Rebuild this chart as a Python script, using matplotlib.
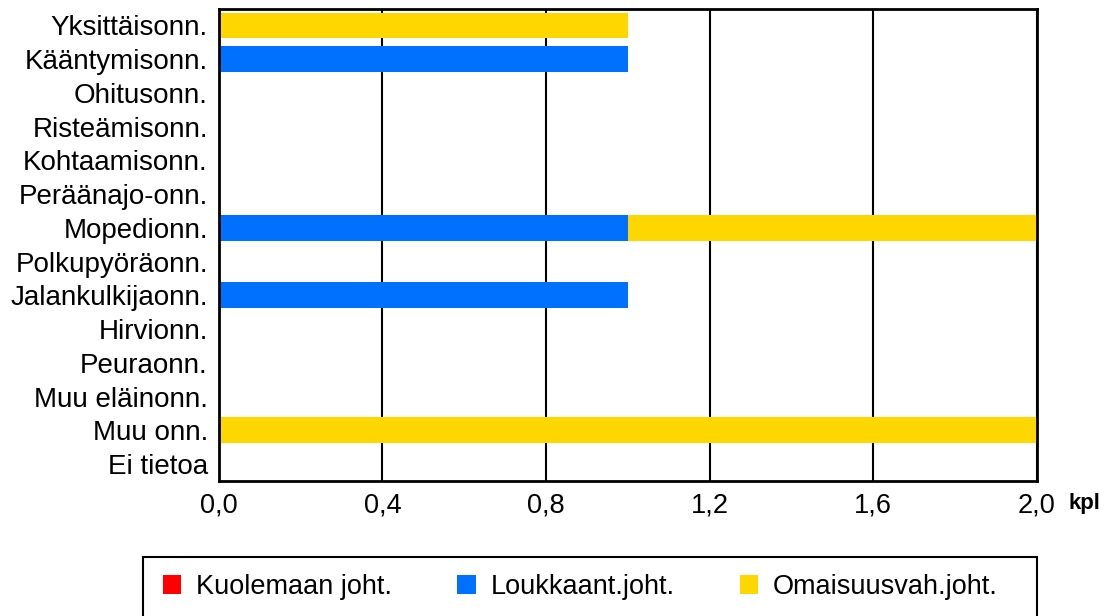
import matplotlib.pyplot as plt
from matplotlib.patches import Patch, Rectangle
import numpy as np

plt.rcParams['font.family'] = ['Liberation Sans', 'DejaVu Sans']

# data
categories = ['Yksittäisonn.', 'Kääntymisonn.', 'Ohitusonn.', 'Risteämisonn.',
              'Kohtaamisonn.', 'Peräänajo-onn.', 'Mopedionn.', 'Polkupyöräonn.',
              'Jalankulkijaonn.', 'Hirvionn.', 'Peuraonn.', 'Muu eläinonn.',
              'Muu onn.', 'Ei tietoa']
kuolemaan = [0, 0, 0, 0, 0, 0, 0, 0, 0, 0, 0, 0, 0, 0]
loukkaant = [0, 1, 0, 0, 0, 0, 1, 0, 1, 0, 0, 0, 0, 0]
omaisuus = [1, 0, 0, 0, 0, 0, 1, 0, 0, 0, 0, 0, 2, 0]
series_names = ['Kuolemaan joht.', 'Loukkaant.joht.', 'Omaisuusvah.joht.']
colors = ['#FF0000', '#0070FF', '#FFD700']
xticks = [0.0, 0.4, 0.8, 1.2, 1.6, 2.0]

fig = plt.figure(figsize=(11.17, 6.16), dpi=100)
ax = fig.add_axes([0.196, 0.219, 0.732, 0.767])

y = np.arange(len(categories))
left = np.zeros(len(categories))
for vals, c in zip([kuolemaan, loukkaant, omaisuus], colors):
    ax.barh(y, vals, left=left, height=0.77, color=c, zorder=3)
    left = left + np.array(vals)

ax.set_ylim(len(categories) - 0.5, -0.5)
ax.set_xlim(0, 2.0)
ax.set_yticks(y)
ax.set_yticklabels(categories, fontsize=20)
ax.set_xticks(xticks)
ax.set_xticklabels([('%.1f' % t).replace('.', ',') for t in xticks], fontsize=19.5)
ax.tick_params(axis='x', length=0, pad=8)
ax.tick_params(axis='y', length=0, pad=8)
ax.grid(axis='x', color='black', linewidth=1.5, zorder=0)
for s in ax.spines.values():
    s.set_linewidth(2)
    s.set_zorder(4)

fig.text(1069 / 1117, 1 - 503 / 616, 'kpl', fontsize=16, fontweight='bold',
         ha='left', va='center')

# legend box runs off the bottom edge
fig.patches.append(Rectangle((143 / 1117, 1 - 620 / 616), (1037 - 143) / 1117,
                             (620 - 557) / 616, transform=fig.transFigure,
                             facecolor='white', edgecolor='black', linewidth=1.5))

handles = [Patch(facecolor=c, edgecolor='none') for c in colors]
leg = fig.legend(handles, series_names, loc='center left',
                 bbox_to_anchor=(163 / 1117, 1 - 587 / 616),
                 ncol=3, fontsize=19.5, frameon=False,
                 handlelength=0.68, handleheight=0.68, handletextpad=0.55,
                 borderpad=0, columnspacing=2.4, borderaxespad=0)

fig.savefig('out.png', dpi=100)
